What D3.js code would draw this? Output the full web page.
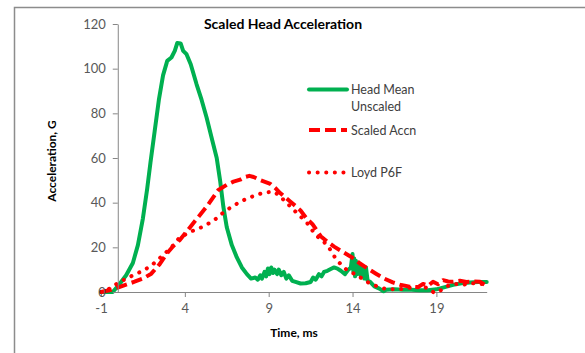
<!DOCTYPE html>
<html><head><meta charset="utf-8">
<script src="https://cdn.jsdelivr.net/npm/d3@7"></script>
<style>body{margin:0;background:#fff}svg{display:block}text{font-family:Lato,"Open Sans",sans-serif}</style>
</head><body>
<script>
const xTicks = [-1, 4, 9, 14, 19];
const yTicks = [0, 20, 40, 60, 80, 100, 120];
const seriesNames = ["Head Mean Unscaled", "Scaled Accn", "Loyd P6F"];
const headMean = [[-1,0],[-0.3,0],[0.1,3.5],[0.5,7.5],[0.9,13],[1.2,21],[1.5,33],[1.75,46],[1.95,58],[2.2,72],[2.45,86],[2.7,97],[2.95,103.5],[3.2,105],[3.4,108],[3.55,111.5],[3.75,111.3],[3.9,108],[4.1,106.5],[4.35,102],[4.7,93],[5.0,86],[5.3,78],[5.6,69],[5.9,60],[6.1,50],[6.3,38],[6.5,29],[6.8,21],[7.1,15.5],[7.4,11],[7.7,8],[7.95,6],[8.2,6.5],[8.35,5.5],[8.5,7.5],[8.6,6],[8.75,9],[8.85,7],[8.95,10.5],[9.05,8],[9.15,11],[9.25,8.5],[9.35,10],[9.5,8],[9.6,10],[9.75,7.5],[9.9,9],[10.05,6],[10.2,7.5],[10.4,5],[10.6,4.5],[10.9,3.8],[11.2,3.9],[11.5,4.5],[11.65,6.5],[11.8,5.5],[12.0,8],[12.15,7],[12.3,9],[12.5,9.5],[12.7,10.3],[12.9,11],[13.1,10.5],[13.3,9.5],[13.55,8],[13.75,10],[13.9,11],[14.0,17],[14.05,9],[14.1,15],[14.15,7],[14.2,14],[14.3,8],[14.4,12],[14.5,7],[14.6,11],[14.7,6],[14.8,11],[14.9,5],[15.05,4.5],[15.3,2.5],[15.6,1.5],[15.85,0.3],[16.0,1.0],[16.5,1.2],[17,1],[17.5,1],[18,0.8],[18.5,0.8],[19,1.2],[19.5,2.2],[20,3.2],[20.5,3.9],[21,4.3],[21.5,4.5],[22,4.5]];
const scaledAccn = [[-1,0],[-0.5,0.8],[0,2],[0.5,3.3],[1.0,4.6],[1.5,6],[2.0,8.2],[2.5,12.5],[2.9,17],[3.3,20.5],[3.7,23.3],[4.1,27],[4.5,30.8],[4.9,34.5],[5.3,38.2],[5.7,42.5],[6.0,45.7],[6.5,48],[6.9,49.4],[7.3,50.3],[7.6,51.5],[7.85,52],[8.1,51.5],[8.5,50.1],[9.1,48.4],[9.4,46.5],[9.7,44.2],[10.0,42.3],[10.3,40.4],[10.6,38.5],[10.9,36.5],[11.3,32.5],[11.6,30.5],[12.1,25],[12.5,22.5],[12.9,20.3],[13.4,18],[13.9,15.8],[14.4,13],[14.9,10.5],[15.4,8.2],[15.9,6],[16.4,4.3],[16.9,3.1],[17.4,2.4],[17.9,2.2],[18.2,3.6],[18.5,2.8],[18.8,4.6],[19.1,3.5],[19.4,5.3],[19.7,4.7],[20.0,4.6],[20.4,5.0],[20.8,4.5],[21.2,4.7],[21.6,4.6],[22,2.7]];
const loydP6F = [[-1,0],[-0.5,1.5],[0,4],[0.5,6],[1.0,7.8],[1.5,9.5],[2.0,11.8],[2.6,15.8],[3.2,20],[3.7,24.5],[4.1,26],[4.5,27.5],[5.0,29],[5.5,31],[5.9,33],[6.2,35],[6.5,36.7],[6.9,38.6],[7.3,40.4],[7.7,41.8],[8.1,43],[8.5,44],[8.9,44.6],[9.25,45],[9.6,43.5],[9.9,41.2],[10.2,39],[10.5,36.7],[10.9,33.8],[11.3,30.8],[11.8,25.5],[12.2,23],[12.5,21],[13.05,14.3],[13.65,9.9],[14.25,7.6],[14.85,4.6],[15.3,3],[15.85,1.6],[16.3,1.2],[16.8,1.2],[17.3,2],[17.7,1.5],[18.1,2.8],[18.5,1.6],[18.9,-0.5],[19.2,0.5],[19.5,1.8],[19.8,3.3],[20.2,3.6],[20.6,3.2],[21.0,4.0],[21.4,3.8],[21.8,3.5],[22,2.7]];

const W = 585, H = 353;
const svg = d3.select("body").append("svg").attr("width", W).attr("height", H);

// outer frame (only top & left visible)
svg.append("path").attr("d", `M14.5,${H} V7.5 H${W}`).attr("fill","none").attr("stroke","#8c8c8c").attr("stroke-width",1.5);

const x = d3.scaleLinear().domain([-1, 22]).range([101, 486.7]);
const y = d3.scaleLinear().domain([0, 120]).range([292, 24]);
const axisColor = "#868686";

const line = d3.line().x(d => x(d[0])).y(d => y(d[1]));
const styles = [
  {data: headMean, color:"#00B050", width:4, dash:null, cap:"round"},
  {data: scaledAccn, color:"#FF0000", width:4, dash:"11 5", cap:"butt"},
  {data: loydP6F, color:"#FF0000", width:4, dash:"0.1 8.5", cap:"round"}
];

// y axis at x = 0
const yAxis = svg.append("g").attr("transform", `translate(${x(0)},0)`)
  .call(d3.axisLeft(y).tickValues(yTicks).tickFormat(d => String(d)).tickSize(5).tickPadding(7).tickSizeOuter(0));
// x axis at y = 0
const xAxis = svg.append("g").attr("transform", `translate(0,${y(0)})`)
  .call(d3.axisBottom(x).tickValues(xTicks).tickFormat(d => String(d)).tickSize(5).tickPadding(7).tickSizeOuter(0));
[xAxis, yAxis].forEach(a => {
  a.attr("font-family", "Lato").attr("font-size", 13);
  a.select(".domain").attr("stroke", axisColor);
  a.selectAll(".tick line").attr("stroke", axisColor);
  a.selectAll(".tick text").attr("fill","#595959");
});

styles.forEach(s => {
  svg.append("path").datum(s.data).attr("d", line).attr("fill","none")
    .attr("stroke", s.color).attr("stroke-width", s.width)
    .attr("stroke-linejoin","round").attr("stroke-linecap", s.cap)
    .attr("stroke-dasharray", s.dash);
});
// keep the "0" label visible above the series start
yAxis.raise();

// title
svg.append("text").attr("x", 283).attr("y", 29).attr("text-anchor","middle")
  .style("font-size","14px").style("font-weight","bold").attr("fill","#000").text("Scaled Head Acceleration");
// axis titles
svg.append("text").attr("x", 294).attr("y", 337).attr("text-anchor","middle")
  .style("font-size","12px").style("font-weight","bold").attr("fill","#000").text("Time, ms");
svg.append("text").attr("transform","translate(56,161) rotate(-90)").attr("text-anchor","middle")
  .style("font-size","12px").style("font-weight","bold").attr("fill","#000").text("Acceleration, G");

// legend
const legY = [89.5, 130, 172.5];
const lg = svg.append("g");
styles.forEach((s, i) => {
  lg.append("line").attr("x1", 309).attr("x2", 347).attr("y1", legY[i]).attr("y2", legY[i])
    .attr("stroke", s.color).attr("stroke-width", s.width).attr("stroke-linecap", s.cap)
    .attr("stroke-dasharray", s.dash);
});
const legText = [["Head Mean","Unscaled"],["Scaled Accn"],["Loyd P6F"]];
legText.forEach((lines, i) => {
  lines.forEach((t, j) => {
    lg.append("text").attr("x", 351).attr("y", legY[i] + 4.5 + j*17)
      .style("font-size","12.5px").attr("fill","#404040").text(t);
  });
});
</script>
</body></html>
